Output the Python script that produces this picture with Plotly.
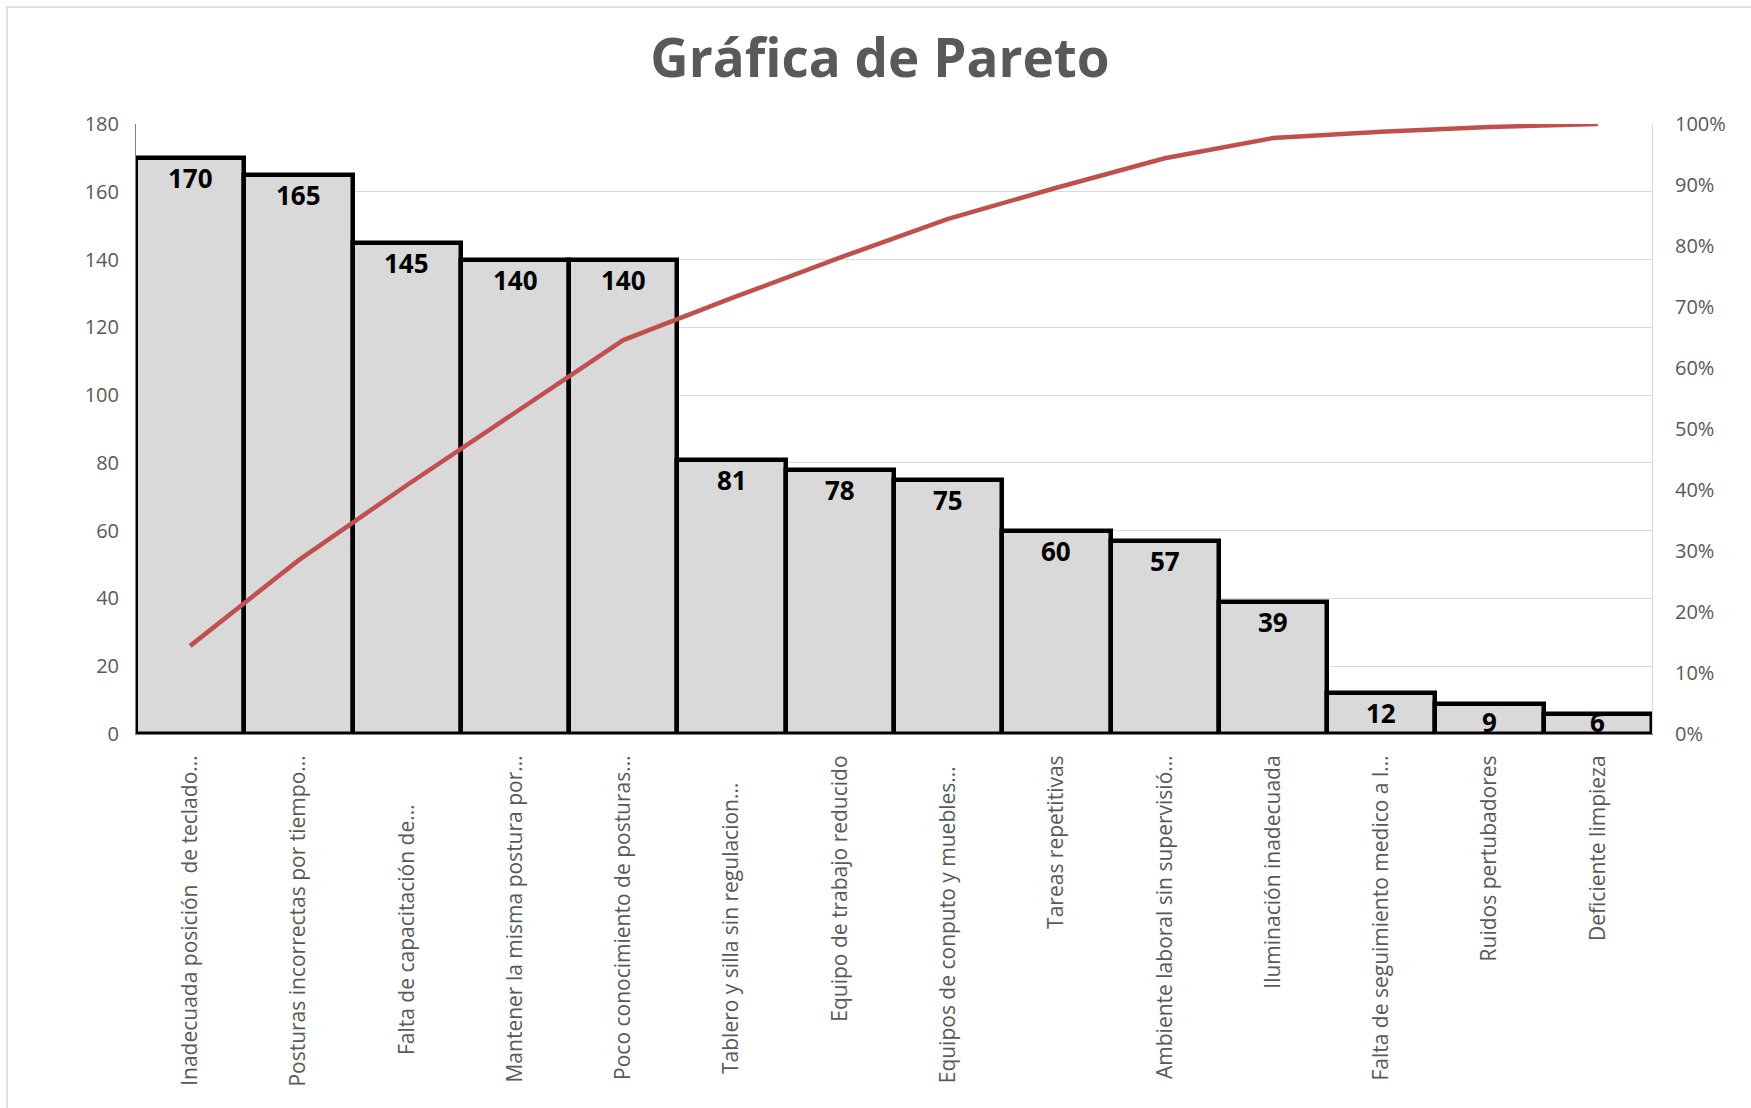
import numpy as np
import plotly.graph_objects as go

# Causas ordenadas de mayor a menor frecuencia
categorias = [
    "Inadecuada posición  de teclado…",
    "Posturas incorrectas por tiempo…",
    "Falta de capacitación de…\u00a0\u00a0\u00a0\u00a0\u00a0\u00a0\u00a0\u00a0\u00a0",
    "Mantener la misma postura por…",
    "Poco conocimiento de posturas…",
    "Tablero y silla sin regulacion…\u00a0\u00a0\u00a0\u00a0\u00a0",
    "Equipo de trabajo reducido",
    "Equipos de conputo y muebles…\u00a0\u00a0",
    "Tareas repetitivas",
    "Ambiente laboral sin supervisió…",
    "Iluminación inadecuada",
    "Falta de seguimiento medico a l…",
    "Ruidos pertubadores",
    "Deficiente limpieza",
]
frecuencias = [170, 165, 145, 140, 140, 81, 78, 75, 60, 57, 39, 12, 9, 6]

y_ticks = [0, 20, 40, 60, 80, 100, 120, 140, 160, 180]
pct_ticks = [0, 0.1, 0.2, 0.3, 0.4, 0.5, 0.6, 0.7, 0.8, 0.9, 1.0]

# Porcentaje acumulado para la curva de Pareto
acumulado = np.cumsum(frecuencias) / np.sum(frecuencias)

W, H = 1751, 1108
M_L, M_R, M_T, M_B = 136, 99, 124, 374
plot_h = H - M_T - M_B
px_per_unit = plot_h / 180

GRIS_TEXTO = "#595959"
FUENTE = "Open Sans"

x_idx = list(range(len(categorias)))

fig = go.Figure()

fig.add_trace(go.Bar(
    x=x_idx,
    y=frecuencias,
    marker=dict(color="#d9d9d9", line=dict(color="#000000", width=4.5)),
    hoverinfo="y",
    yaxis="y",
))

fig.add_trace(go.Scatter(
    x=x_idx,
    y=acumulado,
    mode="lines",
    line=dict(color="#C0504D", width=4.5),
    yaxis="y2",
    hoverinfo="y",
))

# Etiquetas de valor dentro de cada barra
annotations = []
for i, v in enumerate(frecuencias):
    shift = min(20, v * px_per_unit - 12)
    annotations.append(dict(
        x=i, y=v, xref="x", yref="y",
        text=str(v), showarrow=False,
        yanchor="middle", yshift=-shift,
        font=dict(family=FUENTE, size=26, color="#000000", weight="bold"),
    ))

# Borde exterior del área del gráfico
plot_w = W - M_L - M_R
def px_x(p):
    return (p - M_L) / plot_w
def px_y(p):
    return (H - M_B - p) / plot_h

shapes = [dict(
    type="rect", xref="paper", yref="paper",
    x0=px_x(7), x1=px_x(W + 20), y0=px_y(H + 20), y1=px_y(7),
    line=dict(color="#d9d9d9", width=1.5), fillcolor="rgba(0,0,0,0)",
    layer="below",
)]

fig.update_layout(
    width=W, height=H,
    margin=dict(l=M_L, r=M_R, t=M_T, b=M_B, autoexpand=False),
    paper_bgcolor="white",
    plot_bgcolor="white",
    showlegend=False,
    bargap=0,
    title=dict(
        text="Gráfica de Pareto",
        x=880 / W, xref="container", xanchor="center",
        y=1 - 58 / H, yref="container", yanchor="middle",
        font=dict(family=FUENTE, size=53, color=GRIS_TEXTO, weight="bold"),
    ),
    xaxis=dict(
        range=[-0.5, len(categorias) - 0.5],
        tickmode="array", tickvals=x_idx, ticktext=categorias,
        tickangle=-90,
        tickfont=dict(family=FUENTE, size=21, color=GRIS_TEXTO),
        showgrid=False, zeroline=False,
        showline=True, linecolor="#7f7f7f", linewidth=1,
        ticks="", ticklabelstandoff=12,
    ),
    yaxis=dict(
        range=[0, 180],
        tickmode="array", tickvals=y_ticks,
        tickfont=dict(family=FUENTE, size=20, color=GRIS_TEXTO),
        showgrid=True, gridcolor="#d9d9d9", gridwidth=1,
        zeroline=False,
        showline=True, linecolor="#7f7f7f", linewidth=1,
        ticks="", ticklabelstandoff=12,
    ),
    yaxis2=dict(
        range=[0, 1], overlaying="y", side="right",
        tickmode="array", tickvals=pct_ticks, tickformat=".0%",
        tickfont=dict(family=FUENTE, size=20, color=GRIS_TEXTO),
        showgrid=False, zeroline=False,
        showline=True, linecolor="#d9d9d9", linewidth=1,
        ticks="", ticklabelstandoff=18,
    ),
    annotations=annotations,
    shapes=shapes,
)

fig.write_html("out.html")
